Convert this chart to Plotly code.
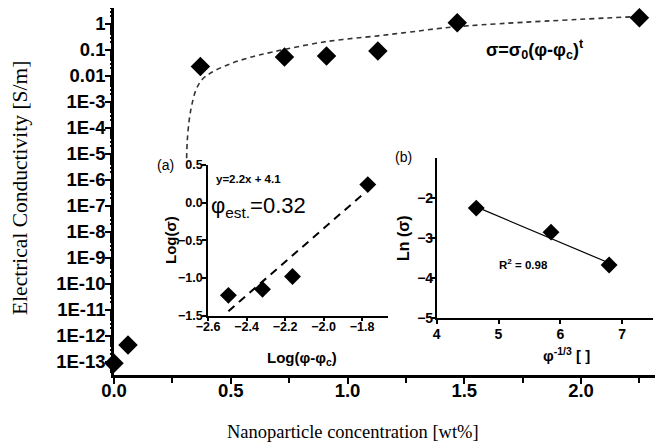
import plotly.graph_objects as go

W, H = 663, 447
OFF = 8  # page body margin offset

# ---- main data ----
conc = [0.0, 0.06, 0.37, 0.73, 0.91, 1.13, 1.47, 2.25]
sigma = [9e-14, 4.5e-13, 0.023, 0.054, 0.059, 0.092, 1.12, 1.74]

fit_conc = [0.311, 0.314, 0.322, 0.333, 0.351, 0.376, 0.411, 0.483, 0.569, 0.682,
            0.908, 1.13, 1.268, 1.468, 2.223]
fit_sigma = [6.8e-6, 3.5e-5, 2.0e-4, 7.6e-4, 2.9e-3, 7.1e-3, 0.0126, 0.026, 0.048, 0.085,
             0.21, 0.35, 0.49, 0.79, 1.9]

y_tickvals = [1, 0.1, 0.01, 1e-3, 1e-4, 1e-5, 1e-6, 1e-7, 1e-8, 1e-9, 1e-10, 1e-11, 1e-12, 1e-13]
y_ticktext = ["1", "0.1", "0.01", "1E-3", "1E-4", "1E-5", "1E-6", "1E-7", "1E-8", "1E-9",
              "1E-10", "1E-11", "1E-12", "1E-13"]
x_tickvals = [0.0, 0.5, 1.0, 1.5, 2.0]
x_ticktext = ["0.0", "0.5", "1.0", "1.5", "2.0"]

# ---- inset (a) ----
a_x = [-2.494, -2.317, -2.161, -1.77]
a_y = [-1.23, -1.15, -0.98, 0.24]
a_fit_x = [-2.494, -1.796]
a_fit_y = [-1.44, 0.11]

# ---- inset (b) ----
b_x = [4.64, 5.85, 6.79]
b_y = [-2.25, -2.85, -3.67]
b_fit_x = [4.64, 6.79]
b_fit_y = [-2.22, -3.62]


def px(x):
    return (x - OFF) / W


def py(y):
    return 1 - (y - OFF) / H


fig = go.Figure()

# main curve + data
fig.add_trace(go.Scatter(x=fit_conc, y=fit_sigma, mode="lines",
                         line=dict(color="#333333", width=1.6, dash="5px,4px", shape="spline"),
                         xaxis="x", yaxis="y", hoverinfo="skip"))
fig.add_trace(go.Scatter(x=conc, y=sigma, mode="markers", cliponaxis=False,
                         marker=dict(symbol="diamond", size=15, color="black"),
                         xaxis="x", yaxis="y"))
# invisible trace carrying the minor-tick overlay axis
fig.add_trace(go.Scatter(x=conc, y=sigma, mode="markers", marker=dict(opacity=0),
                         xaxis="x", yaxis="y4", hoverinfo="skip"))

# inset a
fig.add_trace(go.Scatter(x=a_fit_x, y=a_fit_y, mode="lines",
                         line=dict(color="black", width=2, dash="8px,6px"),
                         xaxis="x2", yaxis="y2"))
fig.add_trace(go.Scatter(x=a_x, y=a_y, mode="markers", cliponaxis=False,
                         marker=dict(symbol="diamond", size=13, color="black"),
                         xaxis="x2", yaxis="y2"))

# inset b
fig.add_trace(go.Scatter(x=b_fit_x, y=b_fit_y, mode="lines",
                         line=dict(color="black", width=1.2),
                         xaxis="x3", yaxis="y3"))
fig.add_trace(go.Scatter(x=b_x, y=b_y, mode="markers", cliponaxis=False,
                         marker=dict(symbol="diamond", size=13, color="black"),
                         xaxis="x3", yaxis="y3"))

tickfont_main = dict(family="Liberation Sans", size=18.5, color="black", weight="bold")
tickfont_a = dict(family="Liberation Sans", size=12.5, color="black", weight="bold")
tickfont_b = dict(family="Liberation Sans", size=14, color="black", weight="bold")

common = dict(showgrid=False, zeroline=False, automargin=False)

fig.update_layout(
    width=W, height=H, margin=dict(l=0, r=0, t=0, b=0, autoexpand=False),
    paper_bgcolor="white", plot_bgcolor="rgba(0,0,0,0)", showlegend=False,
    xaxis=dict(domain=[px(114), px(663)], range=[0, 2.351], **common,
               showline=True, linecolor="black", linewidth=2.5,
               ticks="outside", ticklen=6, tickwidth=2, tickcolor="black",
               tickvals=x_tickvals, ticktext=x_ticktext, tickfont=tickfont_main,
               ticklabelstandoff=-9,
               minor=dict(ticks="outside", ticklen=5, tickwidth=2, tickcolor="black",
                          dtick=0.25, showgrid=False),
               anchor="y"),
    yaxis=dict(domain=[py(375), py(8)], type="log", range=[-13.5, 0.615], **common,
               showline=True, linecolor="black", linewidth=2.5,
               ticks="outside", ticklen=6, tickwidth=2, tickcolor="black",
               tickvals=y_tickvals, ticktext=y_ticktext, tickfont=tickfont_main,
               ticklabelstandoff=-4,
               anchor="x"),
    yaxis4=dict(overlaying="y", type="log", range=[-13.5, 0.615], **common,
                showline=False, showticklabels=False, tickmode="linear", tick0=0, dtick="D1",
                ticks="outside", ticklen=3, tickwidth=1.5, tickcolor="black",
                anchor="x", side="left"),
    xaxis2=dict(domain=[px(208), px(388)], range=[-2.6, -1.665], **common,
                showline=True, linecolor="black", linewidth=1.5,
                ticks="outside", ticklen=4, tickwidth=1.5, tickcolor="black",
                tickvals=[-2.6, -2.4, -2.2, -2.0, -1.8], tickformat=".1f",
                tickfont=tickfont_a, ticklabelstandoff=-5, anchor="y2"),
    yaxis2=dict(domain=[py(315.7), py(165)], range=[-1.5, 0.5], **common,
                showline=True, linecolor="black", linewidth=1.5,
                ticks="outside", ticklen=4, tickwidth=1.5, tickcolor="black",
                tickvals=[-1.5, -1.0, -0.5, 0.0, 0.5], tickformat=".1f",
                tickfont=tickfont_a, ticklabelstandoff=-3, anchor="x2"),
    xaxis3=dict(domain=[px(436.7), px(653)], range=[4, 7.5], **common,
                showline=True, linecolor="black", linewidth=1.5,
                ticks="outside", ticklen=4, tickwidth=1.5, tickcolor="black",
                tickvals=[4, 5, 6, 7], tickfont=tickfont_b, ticklabelstandoff=-2, anchor="y3"),
    yaxis3=dict(domain=[py(318.3), py(158)], range=[-5, -1], **common,
                showline=True, linecolor="black", linewidth=1.5,
                ticks="outside", ticklen=4, tickwidth=1.5, tickcolor="black",
                tickvals=[-5, -4, -3, -2], tickfont=tickfont_b, ticklabelstandoff=-5,
                anchor="x3"),
)

bold = lambda s: dict(family="Liberation Sans", size=s, color="black", weight="bold")

annots = [
    dict(x=px(353), y=py(432), text="Nanoparticle concentration [wt%]",
         font=dict(family="Liberation Serif", size=18.5, color="black")),
    dict(x=px(20), y=py(188), text="Electrical Conductivity [S/m]",
         font=dict(family="Liberation Serif", size=21.5, color="black"), textangle=-90),
    dict(x=px(535), y=py(50), text="σ=σ<sub>0</sub>(φ-φ<sub>c</sub>)<sup>t</sup>", font=bold(18)),
    dict(x=px(165), y=py(165), text="(a)", font=dict(family="Liberation Sans", size=14, color="black")),
    dict(x=px(248), y=py(179), text="y=2.2x + 4.1", font=bold(11.5)),
    dict(x=px(258), y=py(207), text="φ<sub>est.</sub>=0.32",
         font=dict(family="Liberation Sans", size=22, color="black")),
    dict(x=px(171), y=py(240), text="Log(σ)", font=bold(15), textangle=-90),
    dict(x=px(302), y=py(358), text="Log(φ-φ<sub>c</sub>)", font=bold(15)),
    dict(x=px(403), y=py(157), text="(b)", font=dict(family="Liberation Sans", size=14, color="black")),
    dict(x=px(403), y=py(238), text="Ln (σ)", font=bold(16), textangle=-90),
    dict(x=px(523), y=py(264), text="R<sup>2</sup> = 0.98", font=bold(11.5)),
    dict(x=px(566), y=py(354), text="φ<sup>-1/3</sup> [ ]", font=bold(15)),
]
for a in annots:
    a.update(xref="paper", yref="paper", showarrow=False, xanchor="center", yanchor="middle")
    fig.add_annotation(**a)

fig.write_html("out.html")
